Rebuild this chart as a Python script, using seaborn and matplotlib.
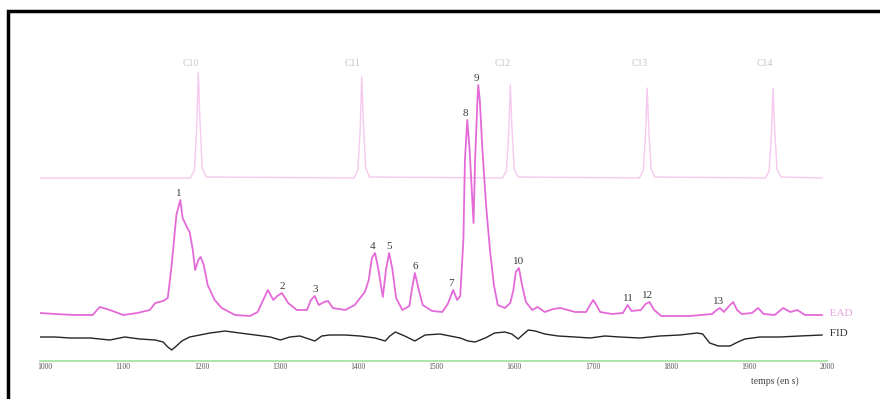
import matplotlib
matplotlib.use("Agg")
import matplotlib.pyplot as plt
from matplotlib.patches import Rectangle
import numpy as np
import seaborn as sns

sns.set_theme(style="white")
plt.rcParams["font.family"] = ["Liberation Serif", "DejaVu Serif"]

# retention time (s) and signal heights
ead_time = [994, 1013, 1038, 1061, 1070, 1083, 1100, 1118, 1134, 1141, 1151, 1157, 1162, 1168,
            1173, 1176, 1182, 1185, 1189, 1192, 1196, 1199, 1203, 1208, 1217, 1226, 1243, 1262,
            1272, 1279, 1285, 1292, 1297, 1303, 1311, 1322, 1335, 1340, 1345, 1350, 1357, 1362,
            1368, 1384, 1396, 1403, 1409, 1414, 1418, 1422, 1426, 1432, 1436, 1440, 1444, 1449,
            1457, 1466, 1469, 1473, 1478, 1483, 1495, 1508, 1515, 1522, 1527, 1531, 1535, 1537,
            1540, 1543, 1548, 1550, 1553, 1554, 1556, 1559, 1564, 1569, 1574, 1579, 1588, 1595,
            1599, 1602, 1606, 1610, 1615, 1623, 1630, 1639, 1650, 1659, 1678, 1692, 1697, 1701,
            1705, 1710, 1725, 1739, 1745, 1750, 1762, 1768, 1773, 1779, 1788, 1825, 1853, 1859,
            1863, 1868, 1876, 1880, 1885, 1891, 1904, 1912, 1919, 1933, 1944, 1953, 1962, 1972,
            1994]
ead_signal = [0, -1, -2, -2, 6, 3, -2, 0, 3, 10, 12, 15, 48, 98,
              113, 95, 85, 81, 63, 43, 53, 56, 48, 28, 13, 5, -2, -3,
              1, 13, 23, 13, 17, 20, 10, 3, 3, 13, 17, 8, 11, 12,
              5, 3, 8, 15, 21, 33, 55, 60, 45, 16, 43, 60, 45, 15,
              3, 7, 23, 40, 23, 8, 2, 1, 9, 23, 13, 17, 73, 153,
              193, 163, 90, 153, 213, 228, 213, 168, 108, 63, 28, 8, 5, 10,
              23, 41, 45, 28, 11, 3, 6, 1, 4, 5, 1, 1, 8, 13,
              8, 1, -1, 0, 8, 2, 3, 9, 11, 3, -3, -3, -1, 3,
              5, 1, 8, 11, 3, -1, 0, 5, -1, -2, 5, 1, 3, -2,
              -2]

fid_time = [994, 1013, 1032, 1058, 1070, 1083, 1102, 1121, 1141, 1151, 1157, 1162, 1168, 1175,
            1185, 1198, 1211, 1221, 1230, 1249, 1269, 1288, 1301, 1313, 1326, 1345, 1354, 1364,
            1384, 1403, 1422, 1435, 1441, 1448, 1460, 1473, 1486, 1505, 1518, 1531, 1541, 1550,
            1563, 1575, 1588, 1597, 1605, 1612, 1618, 1627, 1639, 1656, 1678, 1697, 1716, 1735,
            1761, 1786, 1812, 1834, 1841, 1850, 1861, 1876, 1886, 1895, 1914, 1940, 1965, 1994]
fid_signal = [0, 0, -1, -1, -2, -3, 0, -2, -3, -5, -10, -13, -9, -4,
              0, 2, 4, 5, 6, 4, 2, 0, -3, 0, 1, -4, 1, 2,
              2, 1, -1, -4, 1, 5, 1, -4, 2, 3, 1, -1, -4, -5,
              -1, 4, 5, 3, -2, 3, 7, 6, 3, 1, 0, -1, 1, 0,
              -1, 1, 2, 4, 3, -6, -9, -9, -5, -2, 0, 0, 1, 2]

alk_time = [994,
            1186, 1191, 1194, 1196, 1198, 1201, 1206,
            1395, 1400, 1403, 1405, 1407, 1410, 1415,
            1585, 1590, 1593, 1595, 1597, 1600, 1605,
            1760, 1765, 1768, 1770, 1772, 1775, 1780,
            1921, 1926, 1929, 1931, 1933, 1936, 1941,
            1994]
alk_signal = [0,
              0, 8, 50, 106, 60, 10, 1,
              0, 8, 48, 101, 58, 10, 1,
              0, 7, 45, 93, 52, 9, 1,
              0, 7, 44, 90, 50, 9, 1,
              0, 7, 44, 90, 50, 9, 1,
              0]

alk_names = ["C10", "C11", "C12", "C13", "C14"]
alk_label_time = [1186, 1393, 1585, 1760, 1921]

peak_names = ["1", "2", "3", "4", "5", "6", "7", "8", "9", "10", "11", "12", "13"]
peak_time = [1171, 1303, 1345, 1419, 1440, 1474, 1519, 1538, 1552, 1606, 1746, 1771, 1861]

ticks = list(range(1000, 2001, 100))

# vertical placement of the three traces (px above the time axis)
EAD_BASE = 48
FID_BASE = 24
ALK_BASE = 183

fig = plt.figure(figsize=(8.8, 3.99), dpi=100)
ax = fig.add_axes([40 / 880, 38 / 399, 787 / 880, 311 / 399])
ax.set_xlim(993.6, 2000)
ax.set_ylim(0, 311)

sns.lineplot(x=alk_time, y=np.array(alk_signal) + ALK_BASE, ax=ax, color="#f6c9ef",
             lw=1.0, estimator=None, sort=False)
sns.lineplot(x=ead_time, y=np.array(ead_signal) + EAD_BASE, ax=ax, color="#e46ad8",
             lw=1.3, estimator=None, sort=False)
sns.lineplot(x=fid_time, y=np.array(fid_signal) + FID_BASE, ax=ax, color="#262626",
             lw=1.0, estimator=None, sort=False)

for name, t in zip(alk_names, alk_label_time):
    ax.text(t, ALK_BASE + 115, name, fontsize=7, color="#c4c4c4", ha="center", va="center")

ead_t = np.array(ead_time)
ead_s = np.array(ead_signal)
for name, t in zip(peak_names, peak_time):
    top = ead_s[np.abs(ead_t - t) <= 3].max()
    ax.annotate(name, (t, top + EAD_BASE), xytext=(0, 1.5), textcoords="offset points",
                ha="center", va="bottom", fontsize=8, color="#3a3a3a")

ax.text(1, EAD_BASE, " EAD", transform=ax.get_yaxis_transform(), fontsize=8,
        color="#e9a3de", ha="left", va="center")
ax.text(1, FID_BASE + 4, " FID", transform=ax.get_yaxis_transform(), fontsize=8,
        color="#333333", ha="left", va="center")

for side in ["left", "top", "right"]:
    ax.spines[side].set_visible(False)
ax.spines["bottom"].set_color("#a6e3a6")
ax.spines["bottom"].set_linewidth(1.3)
ax.set_yticks([])
ax.set_xticks(ticks)
ax.set_xticklabels([str(t) for t in ticks])
ax.tick_params(axis="x", length=0, pad=1.5, labelsize=5.5, labelcolor="#555555")
ax.set_xlabel("")
ax.set_ylabel("")
ax.patch.set_alpha(0)

fig.text(775 / 880, 1 - 381 / 399, "temps (en s)", fontsize=7, color="#444444",
         ha="center", va="center")

fig.add_artist(Rectangle((7.5 / 880, -0.1), 1.5, 1.1 - 10.5 / 399, transform=fig.transFigure,
                         fill=False, edgecolor="black", lw=2.5))

fig.savefig("out.png", dpi=100)
